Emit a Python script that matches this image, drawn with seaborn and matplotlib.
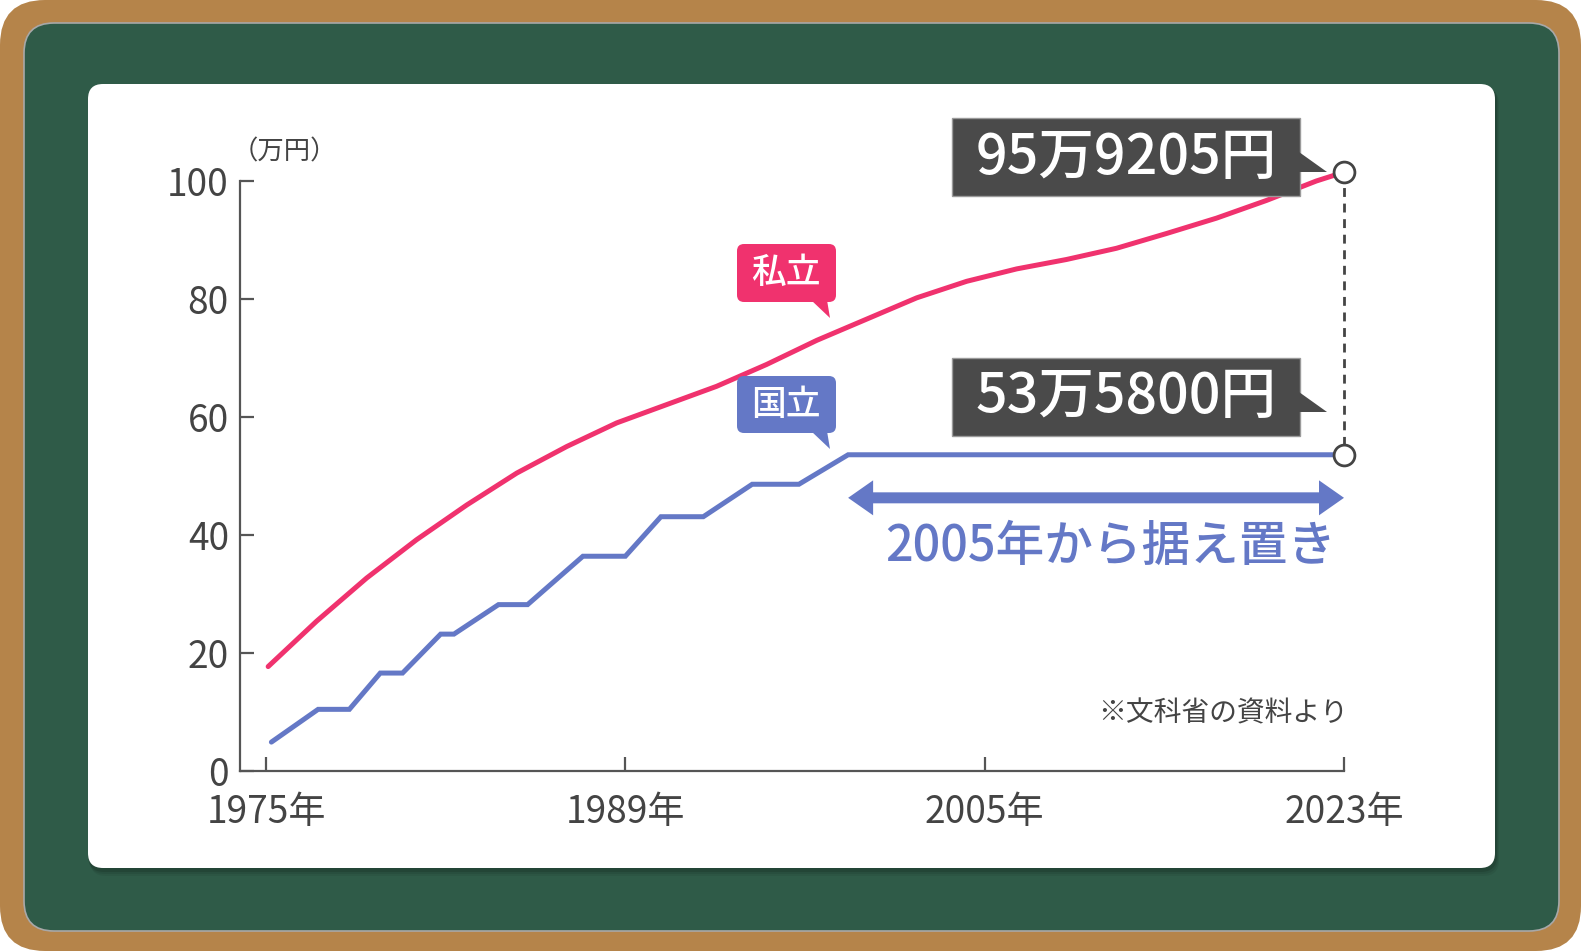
import pandas as pd
import matplotlib
matplotlib.use("Agg")
import matplotlib.pyplot as plt
import matplotlib.patches as mpatches
import matplotlib.transforms as mtransforms
import seaborn as sns

# データ（図から読み取った値、単位：万円）
tick_pos = [0, 1, 2, 3]
tick_labels = ["1975年", "1989年", "2005年", "2023年"]
y_ticks = [0, 20, 40, 60, 80, 100]

private_x = [0.006, 0.141, 0.280, 0.419, 0.559, 0.698, 0.837, 0.976, 1.115, 1.254,
             1.393, 1.533, 1.672, 1.811, 1.950, 2.089, 2.228, 2.367, 2.506, 2.645,
             2.784, 2.923, 3.0]
private_y = [17.7, 25.4, 32.7, 39.2, 45.1, 50.5, 55.0, 59.0, 62.1, 65.2,
             68.9, 73.0, 76.6, 80.2, 83.0, 85.1, 86.7, 88.6, 91.1, 93.7,
             96.7, 100.0, 101.5]

national_x = [0.015, 0.145, 0.232, 0.318, 0.38, 0.486, 0.523, 0.647, 0.728, 0.882,
              1.0, 1.099, 1.217, 1.353, 1.483, 1.62, 3.0]
national_y = [4.9, 10.45, 10.45, 16.6, 16.6, 23.2, 23.2, 28.2, 28.2, 36.4,
              36.4, 43.1, 43.1, 48.6, 48.6, 53.6, 53.6]

private_text = "95万9205円"
national_text = "53万5800円"
flat_text = "2005年から据え置き"
source_text = "※文科省の資料より"
unit_text = "（万円）"

PINK = "#F0326E"
BLUE = "#6478C6"
DARK = "#444444"

sns.set_theme(style="ticks")
plt.rcParams["font.family"] = ["Noto Sans CJK JP", "DejaVu Sans"]

W, H = 1581, 951
fig = plt.figure(figsize=(W / 100, H / 100), dpi=100)
fig.patch.set_facecolor("white")
px = mtransforms.IdentityTransform()  # ピクセル座標（左下原点）


def rbox(x0, y0, x1, y1, r, **kw):  # 上から測った座標で角丸矩形
    p = mpatches.FancyBboxPatch((x0, H - y1), x1 - x0, y1 - y0,
                                boxstyle=f"round,pad=0,rounding_size={r}",
                                transform=px, **kw)
    fig.add_artist(p)
    return p


def poly(pts, **kw):
    p = mpatches.Polygon([(x, H - y) for x, y in pts], closed=True, transform=px, **kw)
    fig.add_artist(p)
    return p


# 黒板風の背景
rbox(0, 0, W, H, 45, fc="#B5844A", ec="none", zorder=-10)
rbox(24, 23, 1559, 931, 30, fc="#2F5B48", ec="#A8A8A8", lw=1.2, zorder=-9)
for i, a in enumerate([0.10, 0.08, 0.06]):
    rbox(88 + i, 86 + i, 1497 + i, 872 + i * 2, 16, fc="black", ec="none", alpha=a, zorder=-8)
rbox(88, 84, 1495, 868, 15, fc="white", ec="none", zorder=-7)

# グラフ本体
ax = fig.add_axes([240 / W, (H - 771) / H, (1344 - 240) / W, (771 - 181) / H])
ax.set_facecolor("none")

df_private = pd.DataFrame({"pos": private_x, "fee": private_y})
df_national = pd.DataFrame({"pos": national_x, "fee": national_y})
sns.lineplot(data=df_private, x="pos", y="fee", ax=ax, color=PINK, lw=3.6,
             solid_capstyle="round", solid_joinstyle="round", clip_on=False, zorder=3)
sns.lineplot(data=df_national, x="pos", y="fee", ax=ax, color=BLUE, lw=3.6,
             solid_capstyle="round", solid_joinstyle="miter", clip_on=False, zorder=3)

# 2023年の点と破線
end_x = [private_x[-1], national_x[-1]]
end_y = [private_y[-1], national_y[-1]]
ax.plot(end_x, end_y, ls=(0, (3.2, 2.4)), color=DARK, lw=2, clip_on=False, zorder=4)
sns.scatterplot(x=end_x, y=end_y, ax=ax, s=225, color="white", edgecolor=DARK,
                linewidth=2, clip_on=False, zorder=5)

ax.set_xlim(-26 / 359.3, 3.0)
ax.set_ylim(0, 100)
ax.set_xticks(tick_pos)
ax.set_xticklabels(tick_labels)
ax.set_yticks(y_ticks)
ax.set_xlabel("")
ax.set_ylabel("")
for s in ["top", "right"]:
    ax.spines[s].set_visible(False)
for s in ["left", "bottom"]:
    ax.spines[s].set_color("#555555")
    ax.spines[s].set_linewidth(1.6)
ax.tick_params(direction="in", length=10, width=1.6, color="#555555",
               labelsize=26.7, labelcolor=DARK)
ax.tick_params(axis="x", pad=16)
ax.tick_params(axis="y", pad=8)

fig.text(232, H - 152, unit_text, transform=px, fontsize=19, color=DARK,
         ha="left", va="center")

# 金額のボックス
for (y0, y1, ty0, ty1, cy, txt) in [(118, 196, 152, 172, 158, private_text),
                                    (358, 436, 392, 412, 397, national_text)]:
    fig.add_artist(mpatches.Rectangle((952, H - y1), 1300 - 952, y1 - y0, transform=px,
                                      fc="#4A4A4A", ec="#9A9A9A", lw=1, zorder=6))
    poly([(1299, ty0), (1327, ty1), (1299, ty1)], fc="#4A4A4A", ec="none", zorder=6)
    fig.text(1126, H - cy, txt, transform=px, fontsize=40, color="white",
             fontweight="medium", ha="center", va="center", zorder=7)

# 私立・国立のラベル
for (y0, y1, color, txt) in [(244, 302, PINK, "私立"), (376, 433, BLUE, "国立")]:
    rbox(737, y0, 836, y1, 7, fc=color, ec="none", zorder=6)
    poly([(811, y1 - 2), (830, y1 + 16), (827, y1 - 2)], fc=color, ec="none", zorder=6)
    fig.text(786, H - (y0 + y1) / 2, txt, transform=px, fontsize=25, color="white",
             fontweight="medium", ha="center", va="center", zorder=7)

# 両矢印（据え置き期間）
fig.canvas.draw()
y_arrow = national_y[-1] - 7.3
xl, yc = ax.transData.transform((national_x[-2], y_arrow))
xr, _ = ax.transData.transform((national_x[-1], y_arrow))
hl, hw, sw = 25, 17.5, 5.5
arrow_pts = [(xl, yc), (xl + hl, yc + hw), (xl + hl, yc + sw), (xr - hl, yc + sw),
             (xr - hl, yc + hw), (xr, yc), (xr - hl, yc - hw), (xr - hl, yc - sw),
             (xl + hl, yc - sw), (xl + hl, yc - hw)]
fig.add_artist(mpatches.Polygon(arrow_pts, closed=True, transform=px, fc=BLUE, ec="none", zorder=6))

fig.text(1111, H - 547, flat_text, transform=px, fontsize=35, color=BLUE,
         fontweight="medium", ha="center", va="center", zorder=7)
fig.text(1348, H - 713, source_text, transform=px, fontsize=20, color=DARK,
         ha="right", va="center", zorder=7)

fig.savefig("out.png", dpi=100)
